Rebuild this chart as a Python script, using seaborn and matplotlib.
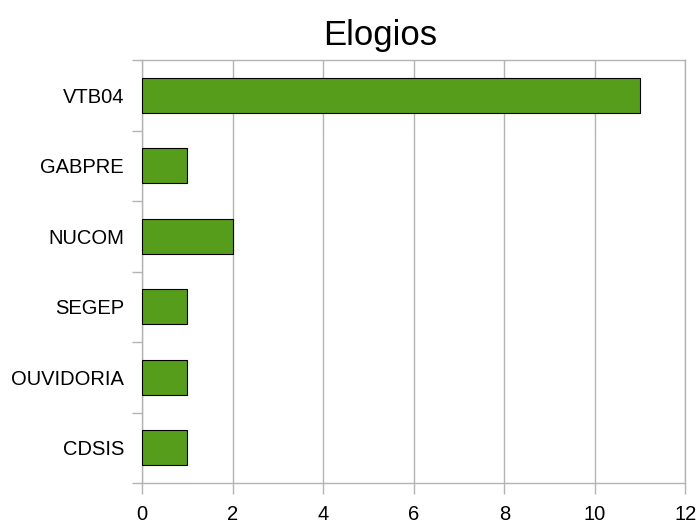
import matplotlib
matplotlib.use("Agg")
import matplotlib.pyplot as plt
import numpy as np
import pandas as pd
import seaborn as sns

# data
setores = ["VTB04", "GABPRE", "NUCOM", "SEGEP", "OUVIDORIA", "CDSIS"]
elogios = [11, 1, 2, 1, 1, 1]

df = pd.DataFrame({"Setor": setores, "Elogios": elogios})

sns.set_style("white")
plt.rcParams["font.family"] = ["Liberation Sans", "DejaVu Sans"]
plt.rcParams["text.color"] = "black"
plt.rcParams["xtick.color"] = "black"
plt.rcParams["ytick.color"] = "black"

fig = plt.figure(figsize=(6.99, 5.24), dpi=100)
ax = fig.add_axes([0.2031, 0.0782, 0.7775, 0.8073])

sns.barplot(data=df, x="Elogios", y="Setor", color="#579d1c", saturation=1,
            width=0.5, edgecolor="black", linewidth=0.8, zorder=3, ax=ax)

ax.set_xlim(0, 12)
ax.set_ylim(len(setores) - 0.5, -0.5)
ax.set_xticks(np.arange(0, 13, 2))
ax.grid(axis="x", color="#b3b3b3", linewidth=1, zorder=0)
ax.set_xlabel("")
ax.set_ylabel("")

for s in ax.spines.values():
    s.set_color("#b3b3b3")
    s.set_linewidth(1)

# y labels centered, ticks at category boundaries
ax.set_yticks(np.arange(-0.5, len(setores)), minor=True)
ax.tick_params(axis="y", which="major", left=False, length=0, pad=13, labelsize=14.5, labelcolor="black")
ax.tick_params(axis="y", which="minor", left=True, length=7.5, color="#b3b3b3", width=1, direction="out")
ax.tick_params(axis="x", which="major", bottom=True, length=8, color="#b3b3b3", width=1,
               direction="out", pad=8, labelsize=14.5, labelcolor="black")

# title sits a bit left of the plot centre in the original
ax.set_title("Elogios", fontsize=25, pad=11, color="black", x=0.438)

fig.savefig("out.png", dpi=100)
